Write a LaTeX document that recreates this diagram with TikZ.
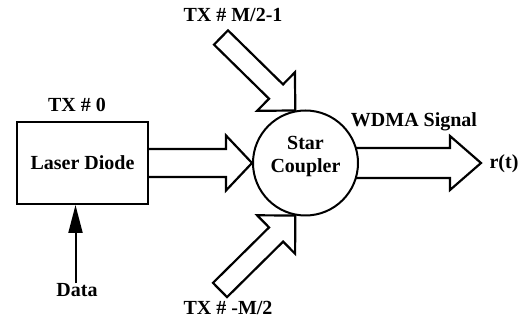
\documentclass[tikz,border=0pt]{standalone}
\usepackage{fontspec}
\setmainfont{Liberation Serif}
\usetikzlibrary{calc,arrows.meta}
\tikzset{
  lbl/.style={font=\fontsize{20}{23}\selectfont\bfseries, inner sep=0pt, align=center},
  boxnode/.style={draw, line width=2pt, minimum width=131pt, minimum height=82pt, inner sep=0pt},
  couplernode/.style={draw, circle, line width=2pt, minimum size=105pt, inner sep=0pt},
  blockline/.style={line width=2.2pt, line join=miter},
  dataarrow/.style={line width=2pt, -{Triangle[length=28pt,width=14pt]}},
}
% tail, tip, shaft half width, head half width, head length, closing
\newcommand\blockarrow[6]{%
  \coordinate (ba-h) at ($(#2)!#5!(#1)$);
  \draw[blockline] ($(#1)!#3!90:(#2)$) -- ($(ba-h)!#3!90:(#2)$) -- ($(ba-h)!#4!90:(#2)$)
    -- (#2) -- ($(ba-h)!#4!-90:(#2)$) -- ($(ba-h)!#3!-90:(#2)$) -- ($(#1)!#3!-90:(#2)$) #6;
}
\begin{document}
\begin{tikzpicture}[x=1pt,y=-1pt]
  \useasboundingbox (0,0) rectangle (523,323);
  \node[boxnode] (ld) at (82.5,163) {};
  \node[lbl] (ldtxt) at (ld.center) {Laser Diode};
  \node[lbl] (tx0) at (77,105) {TX \# 0};
  \node[lbl] (data) at (77,290) {Data};
  \draw[dataarrow] ([xshift=-1.5pt]data.north) -- ([xshift=-1.5pt]data.north |- ld.south);

  \node[couplernode] (sc) at (305.5,163) {};
  \node[lbl] (sctxt) at (305.5,157) {Star\\Coupler};

  \node[lbl] (txtop) at (233,15) {TX \# M/2-1};
  \node[lbl] (txbot) at (228,308) {TX \# -M/2};
  \node[lbl] (wdma) at (414,122) {WDMA Signal};
  \node[lbl] (rt) at (504,164) {r(t)};

  \coordinate (topTail) at (221,37.5);
  \coordinate (botTail) at (220,290);
  \coordinate (outTail) at ($(sc.east)+(-3,0)$);
  \coordinate (outTip) at (481,163);

  \blockarrow{ld.east}{sc.west}{14pt}{27.5pt}{26pt}{}
  \blockarrow{topTail}{sc.101.5}{10pt}{27pt}{27pt}{-- cycle}
  \blockarrow{botTail}{sc.-101.5}{10pt}{27pt}{27pt}{-- cycle}
  \blockarrow{outTail}{outTip}{15pt}{27pt}{31pt}{}
\end{tikzpicture}
\end{document}
